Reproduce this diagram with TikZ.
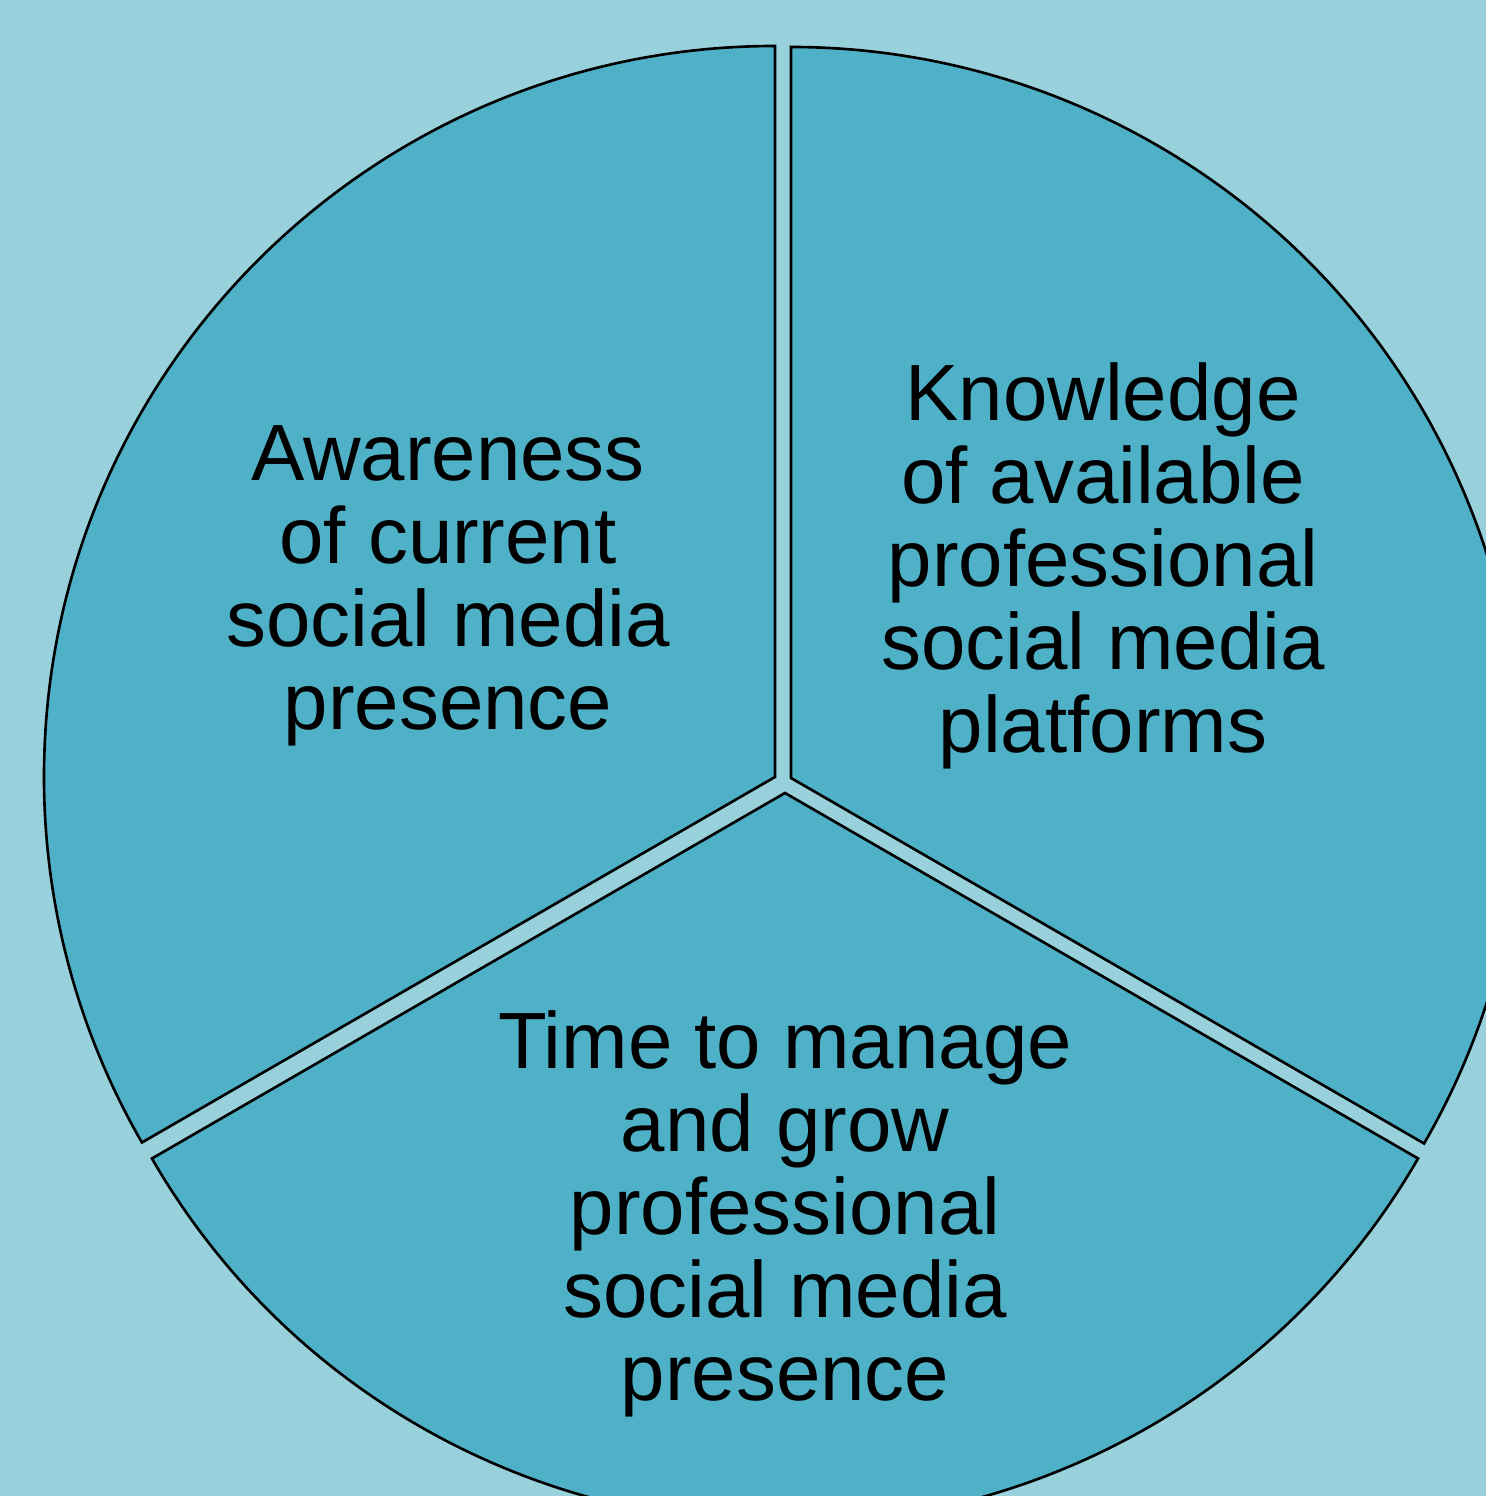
\documentclass[tikz,border=0pt]{standalone}
\usepackage{fontspec}
\setmainfont{Liberation Sans}
\definecolor{bgblue}{HTML}{98D1DC}
\definecolor{slice}{HTML}{4FB1C7}
\begin{document}
\begin{tikzpicture}[x=0.01cm,y=0.01cm,
  wedge/.style={fill=slice,draw=black,line width=0.75pt,line join=miter},
  label/.style={align=center,inner sep=0pt,text=black,
    font=\fontsize{22.7pt}{23.6pt}\selectfont}]
  \useasboundingbox (0,0) rectangle (1486,1496);
  \fill[bgblue] (0,0) rectangle (1486,1496);
  \clip (0,0) rectangle (1486,1496);
  % three exploded slices, radius 731
  \coordinate (cl) at (775,719);
  \coordinate (cr) at (791,718);
  \coordinate (cb) at (785,703);
  \draw[wedge] (cl) -- ++(90:731) arc[start angle=90,end angle=210,radius=731] -- cycle;
  \draw[wedge] (cr) -- ++(-30:731) arc[start angle=-30,end angle=90,radius=731] -- cycle;
  \draw[wedge] (cb) -- ++(210:731) arc[start angle=210,end angle=330,radius=731] -- cycle;
  \node[label] (tl) at (448,910) {Awareness\\of current\\social media\\presence};
  \node[label] (tr) at (1103,930) {Knowledge\\of available\\professional\\social media\\platforms};
  \node[label] (tb) at (785,282) {Time to manage\\and grow\\professional\\social media\\presence};
\end{tikzpicture}
\end{document}
